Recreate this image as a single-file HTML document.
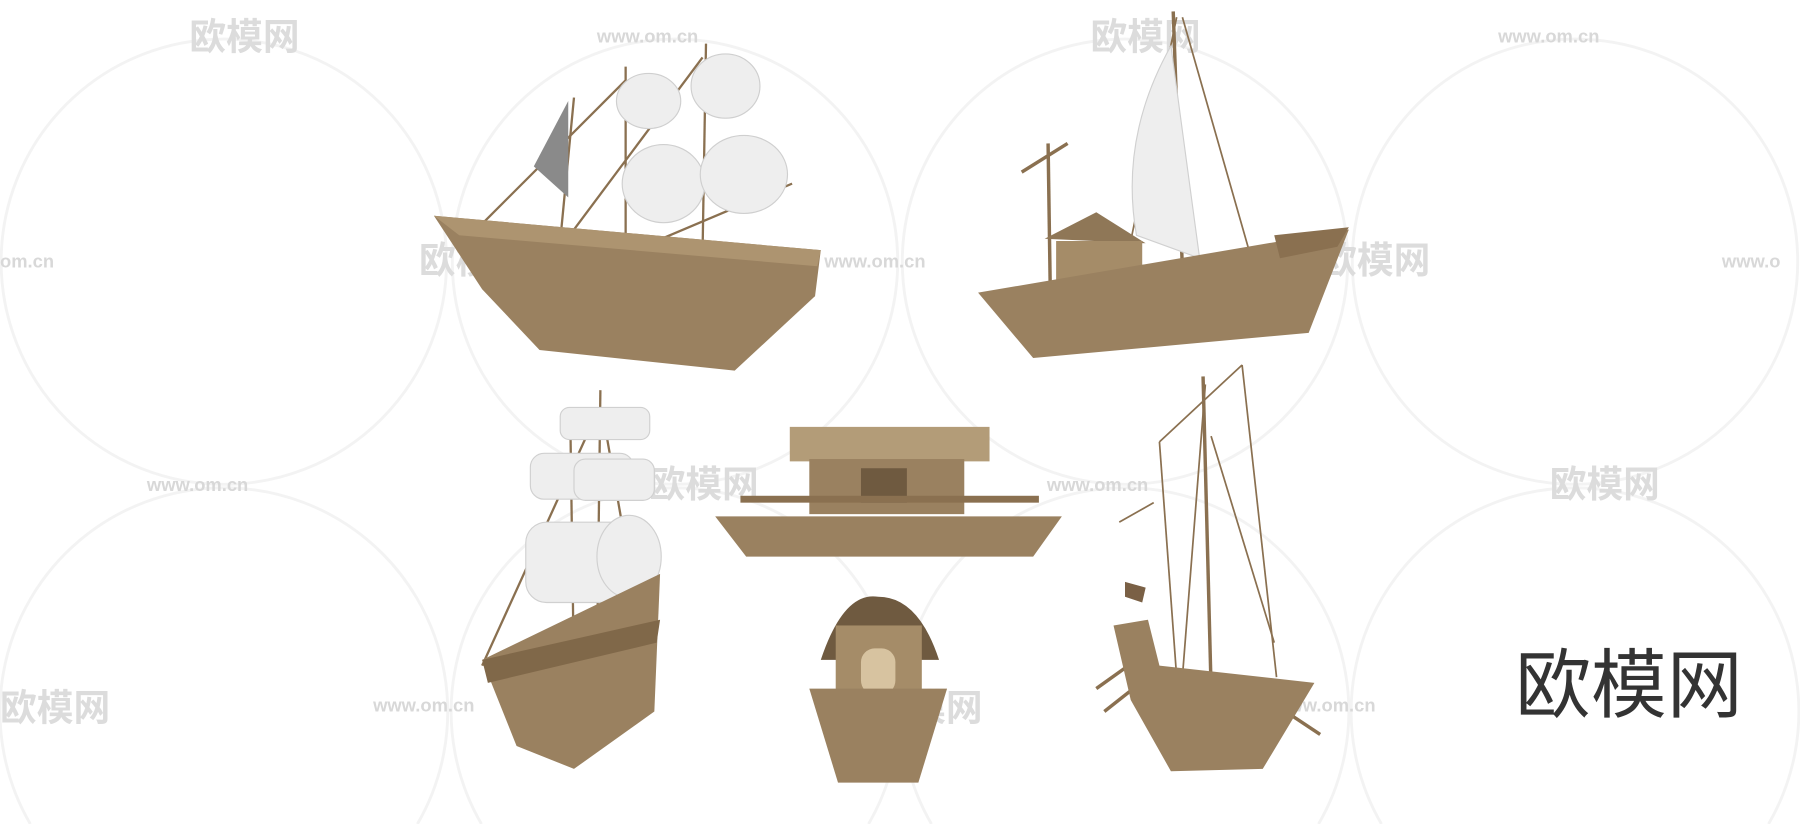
<!DOCTYPE html>
<html><head><meta charset="utf-8"><style>
html,body{margin:0;padding:0;background:#fff;width:1800px;height:824px;overflow:hidden;position:relative}
svg{display:block;position:absolute;left:0;top:0}
</style></head><body>
<svg width="1800" height="824" viewBox="0 0 1568 718" preserveAspectRatio="none" xmlns="http://www.w3.org/2000/svg">
<rect width="1568" height="718" fill="#fff"/>
<g fill="none" stroke="#f3f3f3" stroke-width="2.5">
<circle cx="195" cy="228" r="194"/><circle cx="588" cy="228" r="194"/><circle cx="980" cy="228" r="194"/><circle cx="1372" cy="228" r="194"/>
<path d="M26.4,718 A195,195 0 1,1 363.6,718"/>
<path d="M419.4,718 A195,195 0 1,1 756.6,718"/>
<path d="M811.4,718 A195,195 0 1,1 1148.6,718"/>
<path d="M1203.4,718 A195,195 0 1,1 1540.6,718"/>
</g>
<g font-family="Liberation Sans, sans-serif" font-size="16" fill="#d8d8d8" font-weight="bold">
<text x="520" y="37">www.om.cn</text><text x="1305" y="37">www.om.cn</text>
<text x="0" y="233">om.cn</text><text x="718" y="233">www.om.cn</text><text x="1500" y="233">www.o</text>
<text x="128" y="428">www.om.cn</text><text x="912" y="428">www.om.cn</text>
<text x="325" y="620">www.om.cn</text><text x="1110" y="620">www.om.cn</text>
</g>
<g font-family="Liberation Sans, 'Noto Sans CJK SC', sans-serif" font-size="32" fill="#dcdcdc" font-weight="bold">
<text x="165" y="43">欧模网</text><text x="950" y="43">欧模网</text>
<text x="365" y="238">欧模网</text><text x="1150" y="238">欧模网</text>
<text x="565" y="433">欧模网</text><text x="1350" y="433">欧模网</text>
<text x="0" y="628">欧模网</text><text x="760" y="628">欧模网</text>
</g>
<g stroke="#8a7050" stroke-width="2">
<line x1="488" y1="210" x2="500" y2="85"/><line x1="545" y1="215" x2="545" y2="58"/><line x1="612" y1="220" x2="615" y2="38"/>
<line x1="420" y1="195" x2="545" y2="70"/><line x1="500" y1="200" x2="612" y2="50"/><line x1="560" y1="215" x2="690" y2="160"/>
</g>
<polygon points="465,145 495,88 495,172" fill="#8a8a8a"/>
<g fill="#eeeeee" stroke="#cfcfcf"><ellipse cx="565" cy="88" rx="28" ry="24"/><ellipse cx="632" cy="75" rx="30" ry="28"/><ellipse cx="578" cy="160" rx="36" ry="34"/><ellipse cx="648" cy="152" rx="38" ry="34"/></g>
<polygon points="378,188 715,218 710,258 640,323 470,305 420,252" fill="#9a8160"/>
<polygon points="378,188 715,218 712,232 400,205" fill="#ad9470"/>
<g stroke="#8a7050" stroke-width="3"><line x1="1022" y1="10" x2="1030" y2="235"/><line x1="913" y1="125" x2="915" y2="260"/><line x1="890" y1="150" x2="930" y2="125"/></g>
<g stroke="#8a7050" stroke-width="1.5"><line x1="1030" y1="15" x2="1090" y2="225"/><line x1="1025" y1="15" x2="985" y2="210"/></g>
<path d="M1020,40 Q975,120 990,205 L1045,225 Z" fill="#eeeeee" stroke="#d0d0d0"/>
<polygon points="910,208 955,185 998,212" fill="#8f7757"/>
<rect x="920" y="210" width="75" height="45" fill="#a58c68"/>
<polygon points="852,255 1175,200 1140,290 900,312" fill="#9a8160"/>
<polygon points="1110,205 1175,198 1165,215 1115,225" fill="#8a7050"/>
<polygon points="688,372 862,372 862,402 688,402" fill="#b39c78"/>
<rect x="705" y="400" width="135" height="48" fill="#9a8160"/>
<rect x="750" y="408" width="40" height="30" fill="#6f5a40"/>
<rect x="645" y="432" width="260" height="6" fill="#8a7050"/>
<polygon points="623,450 925,450 900,485 650,485" fill="#9a8160"/>
<g stroke="#8a7050" stroke-width="2"><line x1="523" y1="340" x2="520" y2="580"/><line x1="497" y1="380" x2="500" y2="590"/><line x1="420" y1="580" x2="520" y2="360"/><line x1="560" y1="560" x2="525" y2="360"/></g>
<g fill="#eeeeee" stroke="#d0d0d0"><rect x="488" y="355" width="78" height="28" rx="8"/><rect x="462" y="395" width="90" height="40" rx="12"/><rect x="500" y="400" width="70" height="36" rx="10"/><rect x="458" y="455" width="100" height="70" rx="18"/><ellipse cx="548" cy="485" rx="28" ry="36"/></g>
<polygon points="420,575 575,500 570,620 500,670 450,650" fill="#9a8160"/>
<polygon points="420,575 575,540 572,560 425,595" fill="#806849"/>
<path d="M715,575 Q735,515 765,520 Q800,520 818,575 Z" fill="#6f5a40"/>
<rect x="728" y="545" width="75" height="60" fill="#a58c68"/>
<rect x="750" y="565" width="30" height="40" rx="12" fill="#d7c3a0"/>
<polygon points="705,600 825,600 800,682 730,682" fill="#9a8160"/>
<g stroke="#8a7050" stroke-width="3"><line x1="1048" y1="328" x2="1055" y2="600"/><line x1="955" y1="600" x2="990" y2="575"/><line x1="962" y1="620" x2="1000" y2="590"/><line x1="1120" y1="620" x2="1150" y2="640"/></g>
<g stroke="#8a7050" stroke-width="1.5"><line x1="1010" y1="385" x2="1082" y2="318"/><line x1="1082" y1="318" x2="1112" y2="590"/><line x1="1010" y1="385" x2="1025" y2="590"/><line x1="1050" y1="335" x2="1030" y2="590"/><line x1="1055" y1="380" x2="1110" y2="560"/><line x1="975" y1="455" x2="1005" y2="438"/></g>
<polygon points="980,507 998,512 995,525 980,520" fill="#7a6045"/>
<polygon points="970,545 1000,540 1010,580 1145,595 1100,670 1020,672 985,610" fill="#9a8160"/>
<text x="1320" y="620" font-family="Liberation Sans, 'Noto Sans CJK SC', sans-serif" font-size="66" fill="#333">欧模网</text>
</svg>
</body></html>
